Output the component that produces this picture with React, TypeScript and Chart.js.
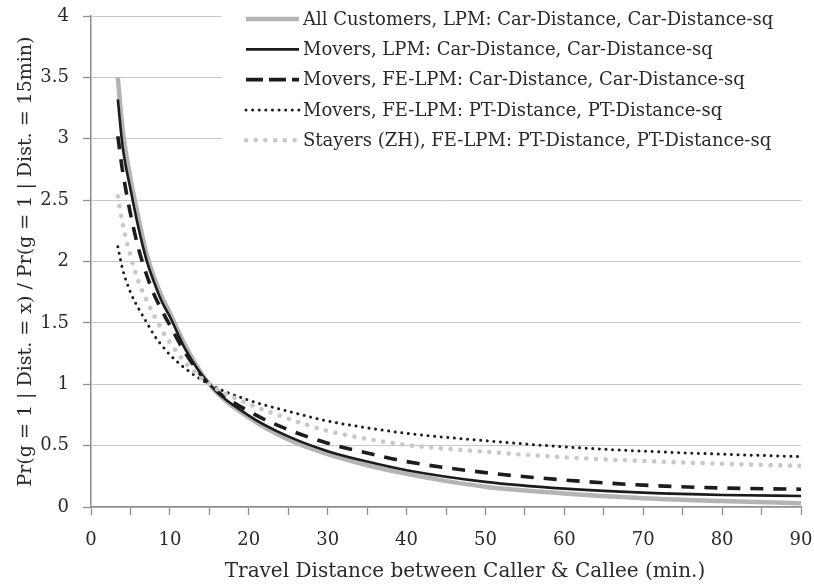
import React, { useEffect, useRef } from "react";
import { Chart, registerables } from "chart.js";

Chart.register(...registerables);

// ---- data ----
const distances = [3.4, 4, 5, 6, 7, 8, 9, 10, 12, 15, 20, 25, 30, 35, 40, 50, 60, 70, 80, 90];
const allCustomersCar = [3.5, 3.08, 2.68, 2.36, 2.07, 1.87, 1.71, 1.58, 1.31, 1.0, 0.73, 0.55, 0.43, 0.34, 0.27, 0.165, 0.11, 0.072, 0.048, 0.03];
const moversCar = [3.32, 2.94, 2.59, 2.28, 2.02, 1.83, 1.67, 1.55, 1.28, 1.0, 0.745, 0.575, 0.455, 0.37, 0.3, 0.205, 0.15, 0.117, 0.098, 0.09];
const moversFECar = [3.02, 2.74, 2.39, 2.11, 1.9, 1.73, 1.6, 1.48, 1.25, 1.0, 0.78, 0.63, 0.52, 0.44, 0.37, 0.28, 0.22, 0.178, 0.155, 0.145];
const moversFEPT = [2.12, 1.94, 1.75, 1.62, 1.51, 1.4, 1.315, 1.24, 1.126, 1.0, 0.87, 0.78, 0.7, 0.645, 0.6, 0.54, 0.49, 0.455, 0.43, 0.41];
const stayersFEPT = [2.53, 2.31, 2.05, 1.84, 1.69, 1.56, 1.44, 1.34, 1.175, 1.0, 0.84, 0.72, 0.62, 0.555, 0.505, 0.45, 0.405, 0.375, 0.352, 0.335];

const seriesLabels = [
  "All Customers, LPM: Car-Distance, Car-Distance-sq",
  "Movers, LPM: Car-Distance, Car-Distance-sq",
  "Movers, FE-LPM: Car-Distance, Car-Distance-sq",
  "Movers, FE-LPM: PT-Distance, PT-Distance-sq",
  "Stayers (ZH), FE-LPM: PT-Distance, PT-Distance-sq",
];
const xTitle = "Travel Distance between Caller & Callee (min.)";
const yTitle = "Pr(g = 1 | Dist. = x) / Pr(g = 1 | Dist. = 15min)";
const xMin = 0, xMax = 90, xStep = 5, xLabelEvery = 10;
const yMin = 0, yMax = 4, yStep = 0.5;

const FONT = "'DejaVu Serif', serif";
const TEXT = "#2a2a2a";
const AXIS = "#8c8c8c";
const GRID = "#c8c8c8";

type Style = { color: string; width: number; dash: number[]; cap: CanvasLineCap; legendDash: number[] };
const styles: Style[] = [
  { color: "#b4b4b4", width: 4.5, dash: [], cap: "butt", legendDash: [] },
  { color: "#1c1c1c", width: 2.6, dash: [], cap: "butt", legendDash: [] },
  { color: "#1c1c1c", width: 3.6, dash: [13, 10], cap: "butt", legendDash: [17, 6] },
  { color: "#1c1c1c", width: 3, dash: [0.01, 6.6], cap: "round", legendDash: [0.01, 6.6] },
  { color: "#c8c8c8", width: 4.6, dash: [0.01, 9.7], cap: "round", legendDash: [0.01, 9.7] },
];
const seriesValues = [allCustomersCar, moversCar, moversFECar, moversFEPT, stayersFEPT];

const insideLegend = {
  id: "insideLegend",
  afterDraw(chart: any) {
    const { ctx, chartArea } = chart;
    ctx.save();
    // white legend box covering grid lines
    ctx.fillStyle = "#ffffff";
    ctx.fillRect(222, chartArea.top - 3, chartArea.right - 222 + 2, 158 - chartArea.top);
    const rowY0 = 19;
    const rowGap = 30.33;
    chart.data.datasets.forEach((ds: any, i: number) => {
      const st = styles[i];
      const y = rowY0 + i * rowGap;
      ctx.beginPath();
      ctx.strokeStyle = st.color;
      ctx.lineWidth = st.width;
      ctx.lineCap = st.cap;
      ctx.setLineDash(st.legendDash);
      ctx.moveTo(246, y);
      ctx.lineTo(299, y);
      ctx.stroke();
      ctx.setLineDash([]);
      ctx.fillStyle = TEXT;
      ctx.font = `18px ${FONT}`;
      ctx.textBaseline = "middle";
      ctx.textAlign = "left";
      ctx.fillText(ds.label, 303, y + 1);
    });
    // x-axis title (sits right of centre in the reference)
    ctx.fillStyle = TEXT;
    ctx.font = `20px ${FONT}`;
    ctx.textAlign = "center";
    ctx.textBaseline = "middle";
    ctx.fillText(xTitle, chartArea.left + 374, 572);
    ctx.restore();
  },
};

export default function App() {
  const ref = useRef<HTMLCanvasElement | null>(null);
  useEffect(() => {
    if (!ref.current) return;
    const chart = new Chart(ref.current, {
      type: "line",
      data: {
        datasets: seriesValues.map((vals, i) => ({
          label: seriesLabels[i],
          data: distances.map((d, j) => ({ x: d, y: vals[j] })),
          borderColor: styles[i].color,
          borderWidth: styles[i].width,
          borderDash: styles[i].dash,
          borderCapStyle: styles[i].cap,
          pointRadius: 0,
          fill: false,
          order: seriesValues.length - i,
          cubicInterpolationMode: "monotone",
        })),
      },
      options: {
        animation: false,
        responsive: false,
        events: [],
        layout: { autoPadding: false, padding: { left: 0, top: 16, right: 13, bottom: 0 } },
        plugins: { legend: { display: false }, tooltip: { enabled: false } },
        scales: {
          x: {
            type: "linear",
            min: xMin,
            max: xMax,
            afterFit: (s: any) => {
              s.height = 78;
              s.paddingLeft = 0; s.paddingRight = 0; s.paddingTop = 0; s.paddingBottom = 0;
            },
            ticks: {
              stepSize: xStep,
              autoSkip: false,
              maxRotation: 0,
              padding: 15,
              color: TEXT,
              font: { family: FONT, size: 18 },
              callback: (v: any) => (Number(v) % xLabelEvery === 0 ? String(v) : ""),
            },
            grid: { drawOnChartArea: false, drawTicks: true, tickLength: 8, color: AXIS, tickColor: AXIS, tickWidth: 1.3 },
            border: { display: true, color: AXIS, width: 1.5 },
            title: { display: false, text: xTitle },
          },
          y: {
            type: "linear",
            min: yMin,
            max: yMax,
            afterFit: (s: any) => {
              s.width = 91;
              s.paddingLeft = 0; s.paddingRight = 0; s.paddingTop = 0; s.paddingBottom = 0;
            },
            ticks: {
              stepSize: yStep,
              padding: 14,
              color: TEXT,
              font: { family: FONT, size: 18 },
              callback: (v: any) => String(Number(v)),
            },
            grid: { drawOnChartArea: true, drawTicks: true, tickLength: 8, color: GRID, tickColor: AXIS, lineWidth: 1, tickWidth: 1.3 },
            border: { display: true, color: AXIS, width: 1.5 },
            title: {
              display: true,
              text: yTitle,
              color: TEXT,
              font: { family: FONT, size: 19 },
              padding: { top: 15, bottom: 0 },
            },
          },
        },
      },
      plugins: [insideLegend],
    } as any);
    return () => chart.destroy();
  }, []);
  return (
    <div style={{ position: "fixed", left: 0, top: 0, width: 814, height: 585, background: "#fff" }}>
      <canvas ref={ref} width={814} height={585} style={{ display: "block" }} />
    </div>
  );
}
